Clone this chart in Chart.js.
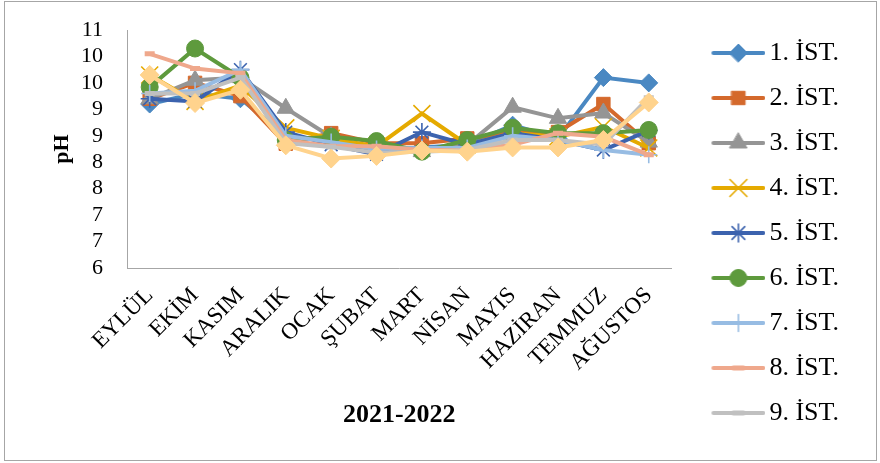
<!DOCTYPE html>
<html>
<head>
<meta charset="utf-8">
<script src="https://cdn.jsdelivr.net/npm/chart.js@4/dist/chart.umd.min.js"></script>
<style>
  html, body { margin: 0; padding: 0; background: #ffffff; }
  #wrap { width: 880px; height: 463px; position: relative; }
</style>
</head>
<body>
<div id="wrap"><canvas id="ph"></canvas></div>
<script>
// Months of the 2021-2022 sampling year
const months = ['EYLÜL', 'EKİM', 'KASIM', 'ARALIK', 'OCAK', 'ŞUBAT', 'MART', 'NİSAN', 'MAYIS', 'HAZİRAN', 'TEMMUZ', 'AĞUSTOS'];

// pH per station
const st1  = [9.10, 9.30, 9.20, 8.50, 8.40, 8.23, 8.28, 8.33, 8.70, 8.45, 9.60, 9.50];
const st2  = [9.20, 9.50, 9.25, 8.35, 8.55, 8.36, 8.36, 8.45, 8.57, 8.57, 9.10, 8.36];
const st3  = [9.20, 9.55, 9.60, 9.02, 8.48, 8.20, 8.20, 8.33, 9.04, 8.83, 8.93, 8.38];
const st4  = [9.65, 9.15, 9.45, 8.65, 8.45, 8.30, 8.92, 8.33, 8.55, 8.48, 8.67, 8.27];
const st5  = [9.20, 9.15, 9.75, 8.57, 8.33, 8.15, 8.57, 8.33, 8.55, 8.42, 8.23, 8.60];
const st6  = [9.42, 10.15, 9.60, 8.42, 8.48, 8.40, 8.20, 8.42, 8.65, 8.55, 8.55, 8.61];
const st7  = [9.30, 9.35, 9.75, 8.50, 8.38, 8.25, 8.27, 8.27, 8.50, 8.42, 8.23, 8.14];
const st8  = [10.05, 9.77, 9.68, 8.42, 8.30, 8.30, 8.23, 8.23, 8.33, 8.55, 8.48, 8.14];
const st9  = [9.30, 9.30, 9.60, 8.36, 8.29, 8.18, 8.20, 8.23, 8.42, 8.42, 8.33, 9.22];
const st10 = [9.65, 9.12, 9.37, 8.32, 8.07, 8.12, 8.22, 8.20, 8.28, 8.28, 8.42, 9.13];

const stationNames = ['1. İST.', '2. İST.', '3. İST.', '4. İST.', '5. İST.', '6. İST.', '7. İST.', '8. İST.', '9. İST.', '10. İST.'];

// Y axis: 6 … 10.5 in steps of 0.5, labels shown with no decimals
const yTickLabels = ['6', '7', '7', '8', '8', '9', '9', '10', '10', '11'];

const seriesValues = [st1, st2, st3, st4, st5, st6, st7, st8, st9, st10];
const seriesColors = ['#4A88C2', '#D4692C', '#959595', '#E5AA00', '#3C63AE', '#5E9A3D', '#97BCE3', '#EFA88C', '#C0C0C0', '#FFD38D'];
const markerStyles = ['rectRot', 'rect', 'triangle', 'crossRot', 'star', 'circle', 'cross', 'line', 'line', 'rectRot'];
const markerRadius = [9, 9.5, 10, 12, 9, 8.5, 8.5, 5, 5, 9.5];
const markerBorder = [1, 1, 1, 1.6, 1.6, 1, 1.6, 5, 5, 1];

const SERIF = "'Liberation Serif', 'Times New Roman', serif";
Chart.defaults.font.family = SERIF;
Chart.defaults.color = '#000000';

const LEGEND_FONT = 26;
const LEGEND_BOX = 66;

// Legend swatch: a short line with the series marker in its middle
function legendSwatch(i) {
  const W = LEGEND_BOX + 18, H = 30;
  const c = document.createElement('canvas');
  c.width = W; c.height = H;
  const g = c.getContext('2d');
  const x0 = LEGEND_BOX - 36, x1 = W, cy = H / 2;
  g.strokeStyle = seriesColors[i];
  g.lineWidth = 4;
  g.lineCap = 'round';
  g.beginPath(); g.moveTo(x0 + 2, cy); g.lineTo(x1 - 2, cy); g.stroke();
  g.fillStyle = seriesColors[i];
  g.strokeStyle = seriesColors[i];
  g.lineWidth = markerBorder[i];
  Chart.helpers.drawPoint(g, { pointStyle: markerStyles[i], radius: markerRadius[i], borderWidth: markerBorder[i], rotation: 0 }, (x0 + x1) / 2, cy);
  return c;
}
const swatches = seriesValues.map((_, i) => legendSwatch(i));

const datasets = seriesValues.map((vals, i) => ({
  label: stationNames[i],
  data: vals,
  borderColor: seriesColors[i],
  backgroundColor: seriesColors[i],
  borderWidth: 4,
  pointStyle: markerStyles[i],
  pointRadius: markerRadius[i],
  pointBorderWidth: markerBorder[i],
  pointBackgroundColor: seriesColors[i],
  pointBorderColor: seriesColors[i],
  tension: 0,
  order: seriesValues.length - i
}));

// White page with a thin frame around the chart
const framePlugin = {
  id: 'frame',
  beforeDraw(chart) {
    const ctx = chart.ctx;
    ctx.save();
    ctx.fillStyle = '#ffffff';
    ctx.fillRect(0, 0, chart.width, chart.height);
    ctx.strokeStyle = '#A6A6A6';
    ctx.lineWidth = 1;
    ctx.strokeRect(4.5, 1.5, 872, 459);
    ctx.restore();
  }
};

new Chart(document.getElementById('ph'), {
  type: 'line',
  data: { labels: months, datasets },
  plugins: [framePlugin],
  options: {
    responsive: true,
    maintainAspectRatio: false,
    animation: false,
    events: [],
    layout: { padding: { top: 3, right: 31, bottom: 0, left: 0 } },
    plugins: {
      tooltip: { enabled: false },
      // empty spacer above the plot area
      title: {
        display: true,
        text: ' ',
        fullSize: false,
        font: { size: 10 },
        padding: { top: 15, bottom: 0 }
      },
      legend: {
        position: 'right',
        labels: {
          usePointStyle: true,
          pointStyleWidth: LEGEND_BOX,
          padding: 19,
          font: { size: LEGEND_FONT, family: SERIF },
          color: '#000000',
          sort: (a, b) => a.datasetIndex - b.datasetIndex,
          filter: (item) => item.datasetIndex < 9,
          generateLabels(chart) {
            const items = Chart.defaults.plugins.legend.labels.generateLabels(chart);
            items.forEach(it => { it.pointStyle = swatches[it.datasetIndex]; });
            return items;
          }
        }
      }
    },
    scales: {
      x: {
        offset: true,
        grid: { display: false, drawTicks: false, tickLength: 0 },
        border: { display: true, color: '#A6A6A6', width: 1 },
        ticks: {
          autoSkip: false,
          minRotation: 45,
          maxRotation: 45,
          padding: 14,
          color: '#000000',
          font: { size: 23, family: SERIF }
        },
        title: {
          display: true,
          text: '2021-2022',
          color: '#000000',
          font: { size: 26, weight: 'bold', family: SERIF },
          padding: { top: 0, bottom: 32 }
        },
        afterFit(scale) { scale.height = 195; }
      },
      y: {
        min: 6,
        max: 10.5,
        grid: { display: false, drawTicks: false, tickLength: 0 },
        border: { display: true, color: '#A6A6A6', width: 1 },
        ticks: {
          stepSize: 0.5,
          autoSkip: false,
          padding: 24,
          color: '#000000',
          font: { size: 22, family: SERIF },
          callback: (value, index) => yTickLabels[index]
        },
        title: {
          display: true,
          text: 'pH',
          color: '#000000',
          font: { size: 22, weight: 'bold', family: SERIF },
          padding: { top: 49, bottom: 0 }
        },
        afterFit(scale) {
          scale.width = 127;
          scale.paddingTop = 0;
          scale.paddingBottom = 0;
        }
      }
    }
  }
});
</script>
</body>
</html>
